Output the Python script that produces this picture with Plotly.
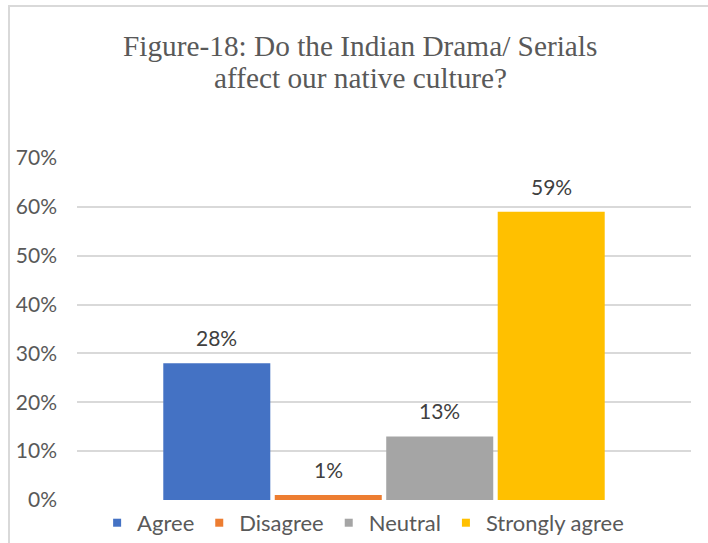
import plotly.graph_objects as go

# Survey responses
categories = ["Agree", "Disagree", "Neutral", "Strongly agree"]
percentages = [28, 1, 13, 59]
colors = ["#4472C4", "#ED7D31", "#A5A5A5", "#FFC000"]
tick_values = [0, 10, 20, 30, 40, 50, 60, 70]
tick_labels = [f"{v}%" for v in tick_values]
title_lines = ["Figure-18: Do the Indian Drama/ Serials", "affect our native culture?"]

PLOT_L, PLOT_R, PLOT_T, PLOT_B = 77, 691, 158, 500
W, H = 708, 543


def px_to_paper_x(px):
    return (px - PLOT_L) / (PLOT_R - PLOT_L)


def px_to_paper_y(py):
    return (PLOT_B - py) / (PLOT_B - PLOT_T)


fig = go.Figure()
for cat, val, col in zip(categories, percentages, colors):
    fig.add_trace(go.Bar(
        x=[cat], y=[val], name=cat, width=0.96, showlegend=False,
        marker=dict(color=col, line=dict(width=0)),
    ))
    fig.add_annotation(
        x=cat, y=val, text=f"{val}%", showarrow=False,
        yanchor="bottom", yshift=11,
        font=dict(family="Lato", size=21, color="#404040"),
    )

# small square legend keys
for cat, col in zip(categories, colors):
    fig.add_trace(go.Scatter(
        x=[None], y=[None], mode="markers", name=cat,
        marker=dict(symbol="square", size=8, color=col),
    ))

# two-line chart title with tight line spacing
for line, cy in zip(title_lines, [46, 78]):
    fig.add_annotation(
        xref="paper", yref="paper", x=px_to_paper_x(360), y=px_to_paper_y(cy),
        xanchor="center", yanchor="middle", text=line, showarrow=False,
        font=dict(family="Liberation Serif", size=29.3, color="#595959"),
    )

# outer chart frame
fig.add_shape(type="rect", xref="paper", yref="paper",
              x0=px_to_paper_x(9), x1=px_to_paper_x(730),
              y0=px_to_paper_y(570), y1=px_to_paper_y(6),
              line=dict(color="#D9D9D9", width=2), layer="below")

fig.update_layout(
    width=W, height=H,
    margin=dict(l=PLOT_L, r=W - PLOT_R, t=PLOT_T, b=H - PLOT_B, autoexpand=False),
    paper_bgcolor="white", plot_bgcolor="white",
    barmode="overlay",
    xaxis=dict(
        type="category", categoryorder="array", categoryarray=categories,
        range=[-1.254, 4.254], showticklabels=False, showgrid=False,
        zeroline=False, showline=False,
    ),
    yaxis=dict(
        range=[0, 70], tickmode="array", tickvals=tick_values, ticktext=tick_labels,
        showgrid=True, gridcolor="#D9D9D9", gridwidth=1.5,
        zeroline=False, showline=False, ticks="",
        ticklabelstandoff=19,
        tickfont=dict(family="Lato", size=21, color="#595959"),
    ),
    legend=dict(
        orientation="h", x=0.466, xanchor="center",
        y=-0.067, yanchor="middle",
        font=dict(family="Lato", size=22, color="#595959"),
        bgcolor="rgba(0,0,0,0)",
    ),
    showlegend=True,
)

fig.write_html("out.html")
